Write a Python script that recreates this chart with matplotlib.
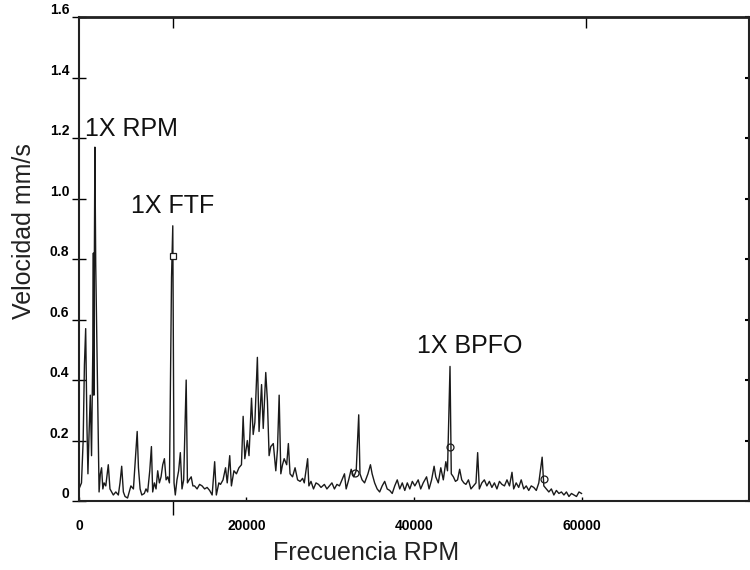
import matplotlib
matplotlib.use('Agg')
import matplotlib.pyplot as plt

plt.rcParams['font.family'] = ['Liberation Sans', 'DejaVu Sans']

# Espectro de velocidad
freq = [0, 300, 500, 650, 800, 950, 1070, 1200, 1350, 1500, 1650, 1720, 1780, 1840, 1900,
        2000, 2250, 2400, 2550, 2700, 2850, 3000, 3200, 3500, 3700, 3900, 4100, 4400, 4700,
        4900, 5100, 5300, 5500, 5800, 6000, 6200, 6500, 6800, 6950, 7100, 7300, 7500,
        7800, 8000, 8200, 8450, 8650, 8800, 9000, 9200, 9400, 9600, 9800, 10000, 10200,
        10400, 10600, 10800, 11050, 11200, 11350, 11500, 11700, 11900, 12100, 12300,
        12500, 12800, 12950, 13150, 13400, 13600, 13800, 14100, 14400, 14700, 15000,
        15300, 15600, 15900, 16200, 16400, 16700, 16900, 17200, 17500, 17700, 18000,
        18200, 18500, 18800, 19100, 19400, 19600, 19800, 20100, 20300, 20600, 20800,
        21000, 21300, 21500, 21800, 22000, 22300, 22500, 22700, 22900, 23200, 23500,
        23700, 23900, 24100, 24300, 24500, 24800, 25000, 25200, 25500, 25800, 26100,
        26400, 26700, 26900, 27300, 27450, 27700, 28000, 28300, 28600, 28900, 29300,
        29600, 29900, 30200, 30500, 30800, 31100, 31400, 31700, 31900, 32200, 32500,
        32800, 33100, 33400, 33550, 33800, 34100, 34500, 34800, 35000, 35300, 35600,
        35900, 36200, 36500, 36800, 37100, 37400, 37700, 38000, 38300, 38600, 38900,
        39200, 39500, 39800, 40100, 40500, 40800, 41100, 41500, 41800, 42100, 42400,
        42600, 42900, 43200, 43500, 43800, 44000, 44300, 44450, 44700, 44950, 45200,
        45450, 45700, 45950, 46200, 46500, 46800, 47100, 47400, 47600, 47800, 48100,
        48400, 48700, 49000, 49300, 49600, 49900, 50200, 50500, 50800, 51100, 51400,
        51700, 51900, 52200, 52500, 52800, 53100, 53400, 53700, 54000, 54300, 54600,
        54900, 55300, 55500, 55800, 56100, 56400, 56700, 57000, 57300, 57600, 57900,
        58200, 58500, 58800, 59100, 59400, 59700, 60000]
vel = [0.04, 0.06, 0.20, 0.45, 0.57, 0.25, 0.09, 0.22, 0.35, 0.15, 0.50, 0.82, 0.35, 0.82, 1.17,
       0.78, 0.30, 0.03, 0.09, 0.11, 0.04, 0.06, 0.05, 0.12, 0.04, 0.03, 0.02, 0.03, 0.02,
       0.06, 0.115, 0.03, 0.015, 0.01, 0.03, 0.05, 0.04, 0.17, 0.23, 0.11, 0.04, 0.02,
       0.025, 0.04, 0.03, 0.10, 0.18, 0.03, 0.06, 0.04, 0.10, 0.06, 0.08, 0.12, 0.14,
       0.07, 0.08, 0.06, 0.74, 0.91, 0.06, 0.02, 0.07, 0.10, 0.16, 0.04,
       0.07, 0.40, 0.06, 0.07, 0.08, 0.05, 0.05, 0.04, 0.055, 0.05, 0.04,
       0.045, 0.035, 0.02, 0.13, 0.02, 0.06, 0.055, 0.07, 0.11, 0.06, 0.15,
       0.05, 0.10, 0.09, 0.11, 0.12, 0.28, 0.14, 0.20, 0.15, 0.34, 0.22,
       0.26, 0.475, 0.23, 0.385, 0.24, 0.425, 0.33, 0.15, 0.18, 0.19, 0.10,
       0.17, 0.35, 0.09, 0.12, 0.14, 0.12, 0.19, 0.09, 0.08, 0.11, 0.07,
       0.065, 0.075, 0.06, 0.14, 0.05, 0.065, 0.04, 0.06, 0.055, 0.045, 0.055,
       0.04, 0.05, 0.06, 0.04, 0.055, 0.05, 0.07, 0.09, 0.04, 0.07, 0.105,
       0.08, 0.10, 0.285, 0.09, 0.07, 0.06, 0.09, 0.12, 0.09, 0.06, 0.04,
       0.03, 0.05, 0.065, 0.04, 0.035, 0.025, 0.05, 0.07, 0.04, 0.06, 0.035,
       0.06, 0.04, 0.065, 0.05, 0.07, 0.04, 0.06, 0.08, 0.04, 0.07, 0.115,
       0.08, 0.06, 0.11, 0.07, 0.13, 0.10, 0.445, 0.09, 0.08, 0.065, 0.07,
       0.105, 0.07, 0.06, 0.055, 0.07, 0.04, 0.05, 0.06, 0.16, 0.04, 0.06,
       0.07, 0.05, 0.065, 0.045, 0.06, 0.04, 0.065, 0.055, 0.05, 0.07, 0.05,
       0.095, 0.04, 0.06, 0.045, 0.07, 0.04, 0.05, 0.035, 0.05, 0.045, 0.035,
       0.06, 0.145, 0.05, 0.04, 0.03, 0.04, 0.02, 0.035, 0.025, 0.03, 0.02,
       0.03, 0.015, 0.025, 0.02, 0.015, 0.03, 0.025]

# Marcadores sobre los picos
mark_sq_f = [11200]
mark_sq_v = [0.81]
mark_ci_f = [33000, 44250, 55500]
mark_ci_v = [0.094, 0.177, 0.073]

# Etiquetas de los picos
labels = ['1X RPM', '1X FTF', '1X BPFO']
label_f = [700, 6200, 40400]
label_v = [1.23, 0.977, 0.513]

xticks = [0, 20000, 40000, 60000]
yticks = [0, 0.2, 0.4, 0.6, 0.8, 1.0, 1.2, 1.4, 1.6]
ytick_labels = ['0', '0.2', '0.4', '0.6', '0.8', '1.0', '1.2', '1.4', '1.6']

fig = plt.figure(figsize=(7.5, 5.7), dpi=100)
ax = fig.add_axes([0.1053, 0.121, 0.8934, 0.849])

ax.plot(freq, vel, color='#1a1a1a', linewidth=1.0)
ax.plot(mark_sq_f, mark_sq_v, 's', ms=5, mfc='white', mec='#1a1a1a', mew=0.9)
ax.plot(mark_ci_f, mark_ci_v, 'o', ms=5, mfc='none', mec='#1a1a1a', mew=0.9)

for t, f, v in zip(labels, label_f, label_v):
    ax.text(f, v, t, ha='left', va='center', fontsize=18, color='#111111')

ax.set_xlim(0, 80000)
ax.set_ylim(0, 1.6)

ax.set_xticks(xticks)
ax.set_xticklabels(['0', '20000', '40000', '60000'], fontsize=10, fontweight='bold')
ax.set_xticks([11200], minor=True)
ax.set_yticks(yticks)
ax.set_yticklabels(ytick_labels, fontsize=10, fontweight='bold', va='bottom')

ax.tick_params(axis='x', which='major', direction='in', length=3, width=1, pad=13)
ax.tick_params(axis='x', which='minor', direction='out', length=10, width=1)
ax.tick_params(axis='y', which='major', direction='inout', length=10, width=1, pad=2)

for side in ['left', 'bottom', 'top', 'right']:
    ax.spines[side].set_linewidth(1.5)
    ax.spines[side].set_color('#222222')
ax.spines['top'].set_linewidth(2)

right = ax.secondary_yaxis('right')
right.set_yticks(yticks)
right.set_yticklabels([''] * len(yticks))
right.tick_params(direction='in', length=3, width=1.5)

top = ax.secondary_xaxis('top')
top.set_xticks([11200, 60500])
top.set_xticklabels(['', ''])
top.tick_params(direction='in', length=8, width=1)

ax.set_xlabel('Frecuencia RPM', fontsize=18, color='#222222')
ax.xaxis.set_label_coords(0.428, -0.083)
ax.set_ylabel('Velocidad mm/s', fontsize=18, color='#222222')
ax.yaxis.set_label_coords(-0.064, 0.558)

fig.savefig('out.png', dpi=100)
